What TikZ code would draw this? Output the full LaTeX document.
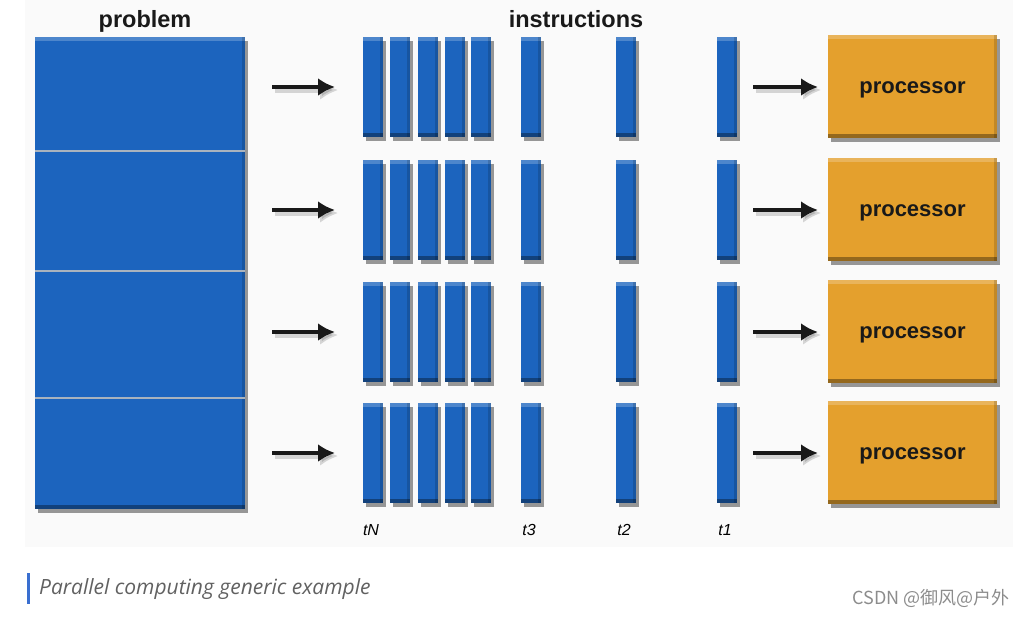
\documentclass[tikz,border=0pt]{standalone}
\usepackage{fontspec}
\setmainfont{Liberation Sans}
\newfontfamily\capfont{Open Sans}
\newfontfamily\cjk{Noto Sans CJK SC}
\usetikzlibrary{shadows,arrows.meta}
\definecolor{pblue}{HTML}{1C64BE}
\definecolor{porange}{HTML}{E4A02D}
\definecolor{divgray}{HTML}{A9B3BE}
\definecolor{capbar}{HTML}{3A6FD0}
\tikzset{
  bevel/.style={path picture={
      \fill[white,opacity=0.22] (path picture bounding box.north west) rectangle ([yshift=-4pt]path picture bounding box.north east);
      \fill[black,opacity=0.35] ([yshift=4pt]path picture bounding box.south west) rectangle (path picture bounding box.south east);
      \fill[black,opacity=0.15] ([xshift=-3pt]path picture bounding box.north east) rectangle (path picture bounding box.south east);}},
  shad/.style={drop shadow={shadow xshift=3pt,shadow yshift=-4pt,opacity=0.4,fill=black}},
  bar/.style={rectangle,draw=none,fill=pblue,inner sep=0,outer sep=0,anchor=north west,
      minimum width=20pt,minimum height=100pt,shad,bevel},
  probblk/.style={rectangle,draw=none,fill=pblue,inner sep=0,outer sep=0,anchor=north west,
      minimum width=210pt,minimum height=472pt,shad,bevel},
  proc/.style={rectangle,draw=none,fill=porange,inner sep=0,outer sep=0,anchor=north west,
      minimum width=169pt,minimum height=103pt,shad,bevel,font=\fontsize{22}{26}\selectfont\bfseries,text=black!90,
      text height=13pt,text depth=0pt},
  head/.style={font=\fontsize{23.5}{26}\selectfont\bfseries,text=black!90,text height=17pt,text depth=5pt,inner sep=0},
  tlab/.style={font=\fontsize{16}{18}\selectfont\itshape,text=black},
  arr/.style={line width=3.5pt,black!90,-{Latex[length=17pt,width=18pt]}},
  arrsh/.style={line width=5pt,black,opacity=0.15,-{Latex[length=18pt,width=20pt]}},
}
\begin{document}
\begin{tikzpicture}[x=1pt,y=-1pt]
\useasboundingbox (0,0) rectangle (1025,616);
\fill[black!2] (25,0) rectangle (1013,547);
% headings
\node[head] (hprob) at (145,21) {problem};
\node[head] (hinst) at (576,21) {instructions};
% problem block
\node[probblk] (prob) at (35,37) {};
\foreach \yy in {151,271,398}
  \draw[divgray,line width=2pt] (prob.west |- 0,\yy) -- (prob.east |- 0,\yy);
% rows
\foreach \r/\t in {1/37,2/160,3/282,4/403}{
  \foreach \c/\x in {1/363,2/390,3/418,4/445,5/471,6/521,7/616,8/717}
    \node[bar] (b\r-\c) at (\x,\t) {};
  \node[proc] (pr\r) at (828,\t-2) {processor};
  \draw[arrsh,shorten <=28pt,shorten >=27pt] ([xshift=2pt,yshift=-3pt]prob.east |- b\r-1.west) -- ([xshift=2pt,yshift=-3pt]b\r-1.west);
  \draw[arr,shorten <=27pt,shorten >=28pt] (prob.east |- b\r-1.west) -- (b\r-1.west);
  \draw[arrsh,shorten <=17pt,shorten >=9pt] ([xshift=2pt,yshift=-3pt]b\r-8.east) -- ([xshift=2pt,yshift=-3pt]b\r-8.east -| pr\r.west);
  \draw[arr,shorten <=16pt,shorten >=10pt] (b\r-8.east) -- (b\r-8.east -| pr\r.west);
}
% time labels
\node[tlab] (tN) at (371,530) {tN};
\node[tlab] (t3) at (529,530) {t3};
\node[tlab] (t2) at (624,530) {t2};
\node[tlab] (t1) at (725,530) {t1};
% caption
\fill[capbar] (27,573) rectangle (30,604);
\node[anchor=west,inner sep=0,font=\capfont\fontsize{21}{24}\selectfont\itshape,text=black!62] (cap) at (39,589) {Parallel computing generic example};
\node[anchor=east,inner sep=0,font=\cjk\fontsize{18}{20}\selectfont,text=black!45] (wm) at (1010,598) {CSDN @御风@户外};
\end{tikzpicture}
\end{document}
